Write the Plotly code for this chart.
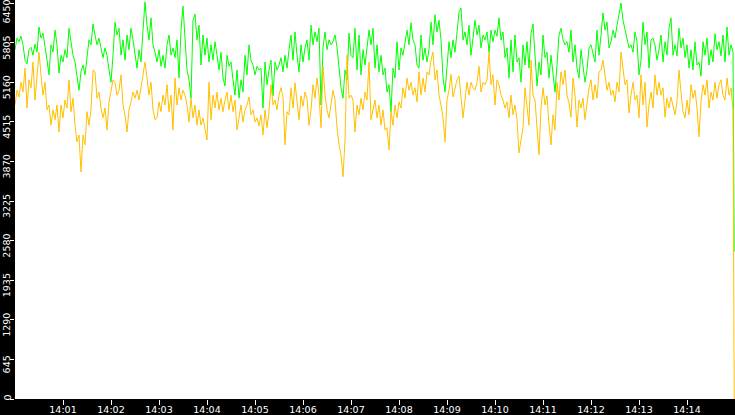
import pandas as pd
import plotly.graph_objects as go

# Sampled every 2.5 s starting 14:00:00, plus a final point at 14:14:59
green_vals = [
    5690,5880,5820,5910,5770,5520,5460,5690,5730,5600,
    5780,5650,6060,5880,5960,5770,5520,5280,5770,5650,
    6010,5770,5310,5600,5490,5690,5560,6040,5850,5600,
    5490,5280,5030,5330,5440,5280,5520,5850,5770,6110,
    5930,5770,5880,5690,5560,5720,5600,5360,5160,5600,
    6140,5930,6040,5600,5850,5520,5930,5690,6040,5850,
    5600,5390,5690,5490,6010,6470,6090,5850,6210,5770,
    5650,5490,5690,5420,5600,5390,5770,5930,5600,5720,
    5560,5850,5230,6010,6400,5930,5360,5200,4900,6170,
    6270,5850,6090,5440,5930,5600,5880,5490,5770,5520,
    5820,5600,5360,5650,5230,5100,5600,5420,5490,5200,
    4950,5360,4900,5200,5000,5600,5280,5770,5520,5440,
    5280,5420,5360,5390,4740,5490,5120,5360,5520,4940,
    5490,5360,5440,5560,5330,5600,5390,5690,5930,5520,
    5980,5600,5330,5770,5490,5720,5850,5520,6090,5770,
    5980,5820,6040,4790,5720,5980,5690,5850,5770,5820,
    5930,5730,5440,5070,4900,5360,5200,5960,5600,5560,
    6040,5360,5930,5280,5690,5440,5720,6010,5770,6040,
    5390,5770,5330,5600,5280,5390,5000,5120,4680,5390,
    5230,5820,5360,5720,5600,5850,6010,5770,6130,5850,
    5770,5440,5390,5930,5520,5720,5490,5690,6140,5770,
    6260,5980,6170,5850,5230,5000,5490,5820,5560,5850,
    5650,5980,6300,6370,5850,5980,5770,6090,5600,5880,
    6170,5930,6090,5720,5930,5850,5980,5650,6010,5820,
    6010,5910,6210,5850,5980,5560,5720,5230,5850,5330,
    5930,5490,5560,5160,5770,5440,5820,5390,5960,6110,
    5520,5100,5490,5280,5930,5560,5650,5230,5600,5280,
    5000,5440,5930,6040,5850,5770,5820,5650,6010,5490,
    5770,5390,5230,5690,5440,5160,5360,5720,5770,5650,
    5490,6010,5600,5930,6290,6010,6140,5720,5820,6010,
    5880,6090,6260,6450,6170,6010,5880,5720,5770,5650,
    5980,5820,5280,5520,6140,5770,5980,5390,5850,5880,
    5770,5520,5690,5930,5490,5820,5600,6040,6210,5600,
    5770,5590,6040,5720,5880,5560,5770,5390,5690,5360,
    5820,5440,5490,5260,5820,5600,5880,5440,5690,5490,
    5950,5690,5820,5590,5930,5490,6060,5600,5770,5650,
    2400,
]

yellow_vals = [
    4790,5030,4920,5160,5000,5390,4740,5200,5070,5490,
    4870,5330,5650,5280,4950,5160,4710,4790,4460,4710,
    4550,4790,4350,4790,4580,4870,4740,5200,4680,4900,
    4460,4190,4300,3700,4300,4140,4680,4460,4710,5360,
    5330,4900,5000,4740,4580,4740,4380,4840,5030,5200,
    5160,4950,5030,5280,4790,4630,4350,4710,4840,5000,
    4900,5030,4870,5070,5330,5490,5230,4950,5160,4710,
    4550,4580,4840,4680,4950,4790,5120,4680,4950,4380,
    5230,4790,5070,4870,5030,4950,4790,4510,4900,4580,
    4790,4460,4710,4460,4580,4380,4220,5160,4550,4950,
    4740,5000,4710,4900,4680,4870,5000,4710,4950,4680,
    4870,4380,4580,4790,4510,4710,4790,4920,4630,4710,
    4510,4580,4450,4630,4300,4710,4420,4680,5120,4790,
    4870,4710,4950,5070,4920,4140,4680,4630,5070,4740,
    5150,4870,4550,4940,4770,5000,4900,4460,4710,5120,
    4900,5230,4950,4420,5420,4950,4710,4580,4790,5030,
    4870,4420,4140,3980,3620,4220,5600,4900,4950,4870,
    4350,4790,4630,4900,4710,5000,4870,5490,4550,4710,
    4870,4580,4790,4460,4710,4380,4420,4060,4680,4460,
    4790,4580,4840,4740,5070,4900,5230,5030,5160,4950,
    5070,4840,5330,4950,5230,5000,5330,5280,5520,5650,
    5200,5360,4950,4790,4580,4190,4870,5030,5290,4920,
    5070,5200,5260,4950,4580,4870,5160,4950,5160,5070,
    5030,5160,5420,5000,5160,5120,5200,5650,5120,5280,
    4790,5200,5120,4950,4870,4740,4840,4580,4950,4630,
    4790,4550,4010,4220,4420,5070,4790,4460,5520,4950,
    4870,4420,3980,4740,5070,4790,4940,4460,4140,4630,
    4380,5160,4870,5330,5120,5360,4950,4820,4590,5230,
    4950,4430,4870,4740,4900,4550,4790,5070,5200,4870,
    5120,4900,5330,5360,5520,5230,5030,5160,4950,5030,
    4840,5160,5000,5650,5360,5120,5200,4660,4950,5160,
    4870,4950,4580,5280,4790,5160,4430,4790,5000,4740,
    5280,4950,5160,4950,5070,4590,4900,4740,4920,4790,
    4630,4840,5360,5000,4680,4580,4870,4630,5120,4900,
    5030,4740,4270,4840,5120,4950,5200,4740,5000,4870,
    5160,4900,5120,5200,4950,4870,5230,4950,5070,4710,
    0,
]

y_ticks = [0, 645, 1290, 1935, 2580, 3225, 3870, 4515, 5160, 5805, 6450]
x_tick_labels = ["14:01", "14:02", "14:03", "14:04", "14:05", "14:06", "14:07",
                 "14:08", "14:09", "14:10", "14:11", "14:12", "14:13", "14:14"]

day = "2024-01-01 "
start = day + "14:00:00"
times = list(pd.date_range(start, periods=len(green_vals) - 1, freq="2500ms"))
times.append(pd.Timestamp(day + "14:14:59"))
x_tick_vals = [day + t + ":00" for t in x_tick_labels]

FONT = "DejaVu Sans"

fig = go.Figure()
fig.add_trace(go.Scatter(x=times, y=green_vals, mode="lines",
                         line=dict(color="#00ff00", width=1), hoverinfo="skip"))
fig.add_trace(go.Scatter(x=times, y=yellow_vals, mode="lines",
                         line=dict(color="#ffc000", width=1), hoverinfo="skip"))

# rotated y-axis labels, sitting just below each tick mark
for v in y_ticks:
    if v == y_ticks[-1]:
        shift = -9
    elif v == 0:
        shift = 1
    else:
        shift = -5.5
    fig.add_annotation(
        x=0, xref="paper", y=v, yref="y",
        text=str(v), textangle=-90, showarrow=False,
        xanchor="right", yanchor="middle", xshift=-2, yshift=shift,
        borderpad=0, font=dict(family=FONT, size=9.5, color="white"),
    )

fig.update_layout(
    width=735, height=415,
    margin=dict(l=15, r=0, t=0, b=16, pad=0),
    paper_bgcolor="black",
    plot_bgcolor="white",
    showlegend=False,
    font=dict(family=FONT, size=9.5, color="white"),
)
fig.update_xaxes(
    type="date", automargin=False,
    range=[day + "14:00:00", day + "14:15:00"],
    tickvals=x_tick_vals, ticktext=x_tick_labels,
    showgrid=False, zeroline=False, showline=False,
    ticks="outside", ticklen=5, tickwidth=1, tickcolor="white",
    ticklabelstandoff=-3, ticklabeloverflow="allow",
    tickfont=dict(family=FONT, size=9.5, color="white"),
)
fig.update_yaxes(
    range=[0, 6500], automargin=False,
    tickvals=y_ticks, showticklabels=False,
    showgrid=False, zeroline=False, showline=False,
    ticks="outside", ticklen=4, tickwidth=1, tickcolor="white",
)

fig.write_html(
    "out.html",
    config={"displayModeBar": False, "staticPlot": True},
    post_script="document.body.style.margin='0';document.body.style.padding='0';"
                "document.body.style.overflow='hidden';",
)
